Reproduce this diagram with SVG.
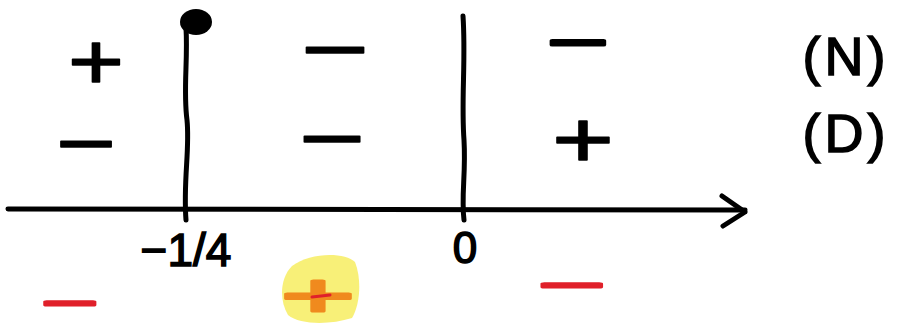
<svg xmlns="http://www.w3.org/2000/svg" width="899" height="332" viewBox="0 0 899 332">
<style>
.s{font-family:"Liberation Sans",Arial,sans-serif;fill:#000;text-anchor:middle}
.sg{font-size:80px;stroke:#000;stroke-width:1.5px;stroke-linejoin:round}
.red{fill:#e0202a;stroke:#e0202a;font-size:44px;stroke-width:3px}
.lb{font-size:54px;letter-spacing:4px;stroke:#000;stroke-width:1.5px}
.ln{stroke:#000;stroke-width:5;fill:none;stroke-linecap:round;stroke-linejoin:round}
</style>
<rect width="899" height="332" fill="#fff"/>
<g id="connectors">
<path class="ln" d="M8 209 L745 210"/>
<path class="ln" d="M722 196 L745 212 L723 226"/>
<path class="ln" d="M186 28 C188 60 183 90 187 120 C190 150 183 180 186 220"/>
<path class="ln" d="M463 16 C466 60 461 100 464 140 C466 175 461 195 464 220"/>
</g>
<g id="dot"><ellipse cx="196" cy="22" rx="16" ry="13" fill="#000"/></g>
<g id="signs-N">
<text class="s sg" x="96" y="89" textLength="56" lengthAdjust="spacingAndGlyphs">+</text>
<text class="s sg" x="335" y="77" textLength="68" lengthAdjust="spacingAndGlyphs">−</text>
<text class="s sg" x="578" y="64" style="font-size:64px;stroke-width:3px" textLength="62" lengthAdjust="spacingAndGlyphs">−</text>
</g>
<g id="signs-D">
<text class="s sg" x="86" y="171" textLength="60" lengthAdjust="spacingAndGlyphs">−</text>
<text class="s sg" x="332" y="166" textLength="66" lengthAdjust="spacingAndGlyphs">−</text>
<text class="s sg" x="583" y="167" textLength="62" lengthAdjust="spacingAndGlyphs">+</text>
</g>
<g id="labels">
<text class="s lb" x="846" y="75">(N)</text>
<text class="s lb" x="846" y="152">(D)</text>
<text class="s" x="186" y="266" style="font-size:46px;stroke:#000;stroke-width:1.5px">−1/4</text>
<text class="s" x="465" y="263" style="font-size:44px;stroke:#000;stroke-width:1.5px">0</text>
</g>
<g id="result">
<text class="s sg red" x="70" y="318" textLength="56" lengthAdjust="spacingAndGlyphs">−</text>
<path d="M292 266 C310 252 345 252 355 262 C362 280 360 305 352 318 C330 325 300 325 288 315 C279 300 280 278 292 266 Z" fill="#f8f078"/>
<text class="s sg" x="318" y="316" style="font-size:62px;fill:#f08a1e;stroke:#f08a1e;stroke-width:3px" textLength="74" lengthAdjust="spacingAndGlyphs">+</text>
<path d="M312 297 L330 295" stroke="#e0202a" stroke-width="3" stroke-linecap="round"/>
<text class="s sg red" x="572" y="300" textLength="66" lengthAdjust="spacingAndGlyphs">−</text>
</g>
</svg>
